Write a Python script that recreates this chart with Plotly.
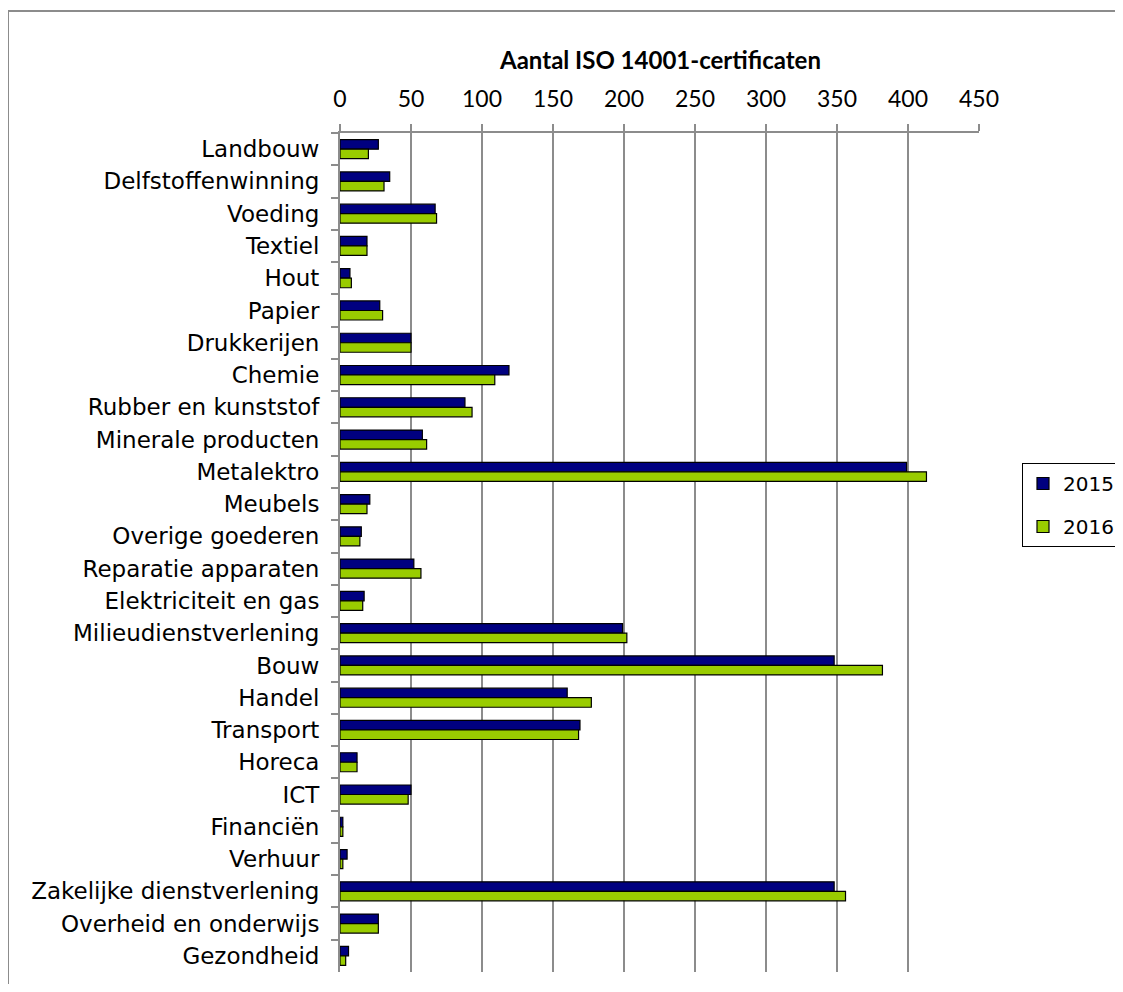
import plotly.graph_objects as go

categories = [
    "Landbouw", "Delfstoffenwinning", "Voeding", "Textiel", "Hout", "Papier",
    "Drukkerijen", "Chemie", "Rubber en kunststof", "Minerale producten",
    "Metalektro", "Meubels", "Overige goederen", "Reparatie apparaten",
    "Elektriciteit en gas", "Milieudienstverlening", "Bouw", "Handel",
    "Transport", "Horeca", "ICT", "Financiën", "Verhuur",
    "Zakelijke dienstverlening", "Overheid en onderwijs", "Gezondheid",
]
values_2015 = [27, 35, 67, 19, 7, 28, 50, 119, 88, 58, 399, 21, 15, 52, 17,
               199, 348, 160, 169, 12, 50, 2, 5, 348, 27, 6]
values_2016 = [20, 31, 68, 19, 8, 30, 50, 109, 93, 61, 413, 19, 14, 57, 16,
               202, 382, 177, 168, 12, 48, 2, 2, 356, 27, 4]
x_ticks = [0, 50, 100, 150, 200, 250, 300, 350, 400, 450]
title_text = "Aantal ISO 14001-certificaten"

W, H = 1115, 976
ML, MR, MT, MB = 332, 144, 125, 12
PW, PH = W - ML - MR, H - MT - MB

fig = go.Figure()
fig.add_trace(go.Bar(
    y=categories, x=values_2015, name="2015", orientation="h",
    marker=dict(color="#000080", line=dict(color="#000000", width=1.2)),
    legendgroup="a",
))
fig.add_trace(go.Bar(
    y=categories, x=values_2016, name="2016", orientation="h",
    marker=dict(color="#99CC00", line=dict(color="#000000", width=1.2)),
    legendgroup="b",
))

grid_col = "#8c8c8c"
fig.update_layout(
    width=W, height=H,
    margin=dict(l=ML, r=MR, t=MT, b=MB, autoexpand=False),
    paper_bgcolor="white", plot_bgcolor="white",
    barmode="group", bargap=0.41, bargroupgap=0,
    showlegend=True,
    legend=dict(
        x=(1014 - ML) / PW, y=1 - (455 - MT) / PH, xanchor="left", yanchor="top",
        bordercolor="#000000", borderwidth=1, bgcolor="white",
        font=dict(family="DejaVu Sans", size=20, color="#000000"),
        traceorder="grouped", tracegroupgap=14, itemwidth=30,
    ),
    xaxis=dict(
        side="top", range=[0, 450], tickvals=x_ticks,
        ticktext=[str(v) for v in x_ticks],
        showgrid=True, gridcolor=grid_col, gridwidth=2,
        showline=True, linecolor=grid_col, linewidth=2,
        ticks="outside", ticklen=7, tickcolor=grid_col, tickwidth=2,
        tickfont=dict(family="Lato, Open Sans", size=23, color="#000000"),
        ticklabelstandoff=8, zeroline=False, fixedrange=True,
    ),
    yaxis=dict(
        autorange="reversed", type="category",
        showline=True, linecolor=grid_col, linewidth=2,
        ticks="outside", ticklen=7, tickcolor=grid_col, tickwidth=2,
        tickson="boundaries", showgrid=False,
        tickfont=dict(family="DejaVu Sans", size=23, color="#000000"),
        ticklabelstandoff=14, fixedrange=True,
    ),
    annotations=[dict(
        text="<b>" + title_text + "</b>", x=0.5, y=1 + (125 - 52) / PH,
        xref="paper", yref="paper", showarrow=False,
        xanchor="center", yanchor="middle",
        font=dict(family="Lato, Open Sans", size=24, color="#000000"),
    )],
    shapes=[
        dict(type="line", xref="paper", yref="paper",
             x0=-(ML - 0) / PW, x1=1 + MR / PW,
             y0=1 + (MT - 3) / PH, y1=1 + (MT - 3) / PH,
             line=dict(color="#8c8c8c", width=2)),
        dict(type="line", xref="paper", yref="paper",
             x0=-(ML - 0) / PW, x1=-(ML - 0) / PW,
             y0=-MB / PH, y1=1 + (MT - 3) / PH,
             line=dict(color="#8c8c8c", width=2)),
    ],
)

fig.write_html("out.html")
